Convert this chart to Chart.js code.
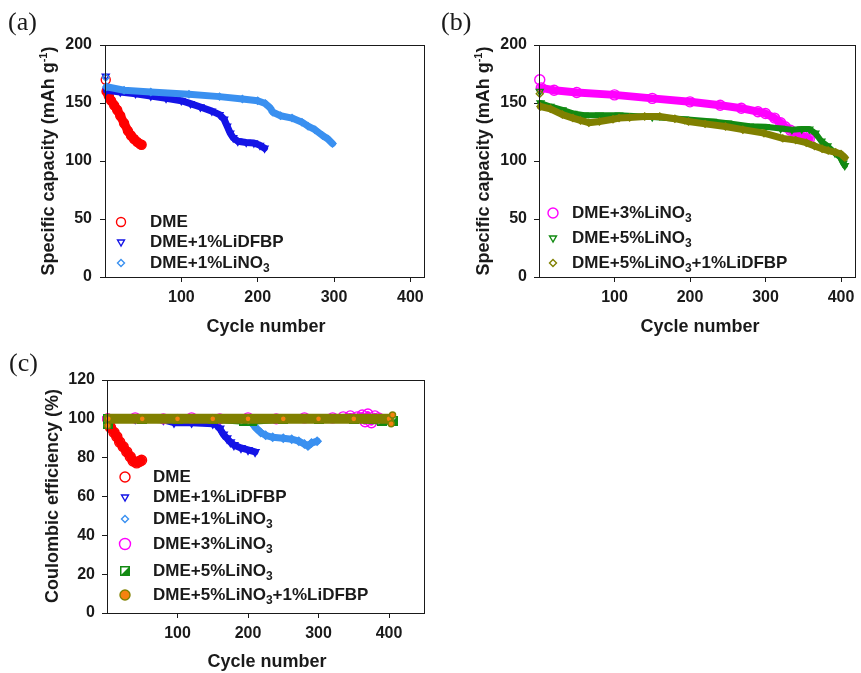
<!DOCTYPE html>
<html>
<head>
<meta charset="utf-8">
<script src="https://cdn.jsdelivr.net/npm/chart.js@4.4.1/dist/chart.umd.min.js"></script>
<style>
  html, body { margin: 0; padding: 0; background: #fff; }
  #page { position: relative; width: 861px; height: 673px; overflow: hidden;
          font-family: 'Liberation Sans', Arial, sans-serif; color: #1a1a1a; }
  canvas { position: absolute; }
  .tag { position: absolute; font: 26px/26px 'Liberation Serif', 'Times New Roman', serif; }
  .ttl { position: absolute; font-weight: bold; font-size: 18px; line-height: 18px; white-space: nowrap;
         transform: translate(-50%, -50%); }
  .ttl.v { transform: translate(-50%, -50%) rotate(-90deg); }
  .ttl sup { font-size: 11px; vertical-align: 7px; line-height: 0; }
</style>
</head>
<body>
<div id="page">
  <canvas id="ca" width="430" height="340" style="left:0;top:0;width:430px;height:340px"></canvas>
  <canvas id="cb" width="431" height="340" style="left:430px;top:0;width:431px;height:340px"></canvas>
  <canvas id="cc" width="430" height="333" style="left:0;top:340px;width:430px;height:333px"></canvas>

  <div class="tag" style="left:8px;top:9px">(a)</div>
  <div class="tag" style="left:441px;top:9px">(b)</div>
  <div class="tag" style="left:9px;top:350px">(c)</div>

  <div class="ttl v" style="left:48px;top:161px">Specific capacity (mAh g<sup>-1</sup>)</div>
  <div class="ttl" style="left:266px;top:326px">Cycle number</div>
  <div class="ttl v" style="left:483px;top:161px">Specific capacity (mAh g<sup>-1</sup>)</div>
  <div class="ttl" style="left:700px;top:326px">Cycle number</div>
  <div class="ttl v" style="left:52px;top:496px">Coulombic efficiency (%)</div>
  <div class="ttl" style="left:267px;top:661px">Cycle number</div>
</div>

<script>
// tick labels
const cycleTicks = [100, 200, 300, 400];
const capTicks = [0, 50, 100, 150, 200];
const ceTicks = [0, 20, 40, 60, 80, 100, 120];

// (a) specific capacity
const aDmeCycle = [1, 2, 5, 8, 12, 16, 20, 25, 30, 34, 38, 42, 46, 48];
const aDmeCap   = [170, 160, 156, 152, 148, 144, 139, 132.5, 126, 122, 119, 116.5, 114.5, 114];

const aDfbpCycle = [1, 2, 20, 40, 60, 80, 100, 112, 125, 140, 150, 156, 160, 164, 168, 174, 185, 195, 203, 209];
const aDfbpCap   = [173, 161, 159.5, 158, 156, 154, 152, 149.5, 146.5, 143, 140, 136, 130, 124, 120, 117, 116, 115.5, 113.5, 111];

const aLno1Cycle = [1, 2, 25, 60, 110, 150, 180, 200, 210, 216, 220, 230, 245, 258, 266, 275, 285, 292, 298];
const aLno1Cap   = [172, 164, 161, 159.5, 157.5, 155.5, 153.5, 152, 149.5, 146, 142, 139, 137, 133.5, 130, 127, 122, 119, 115];

// (b) specific capacity
const bLno3Cycle = [1, 3, 20, 50, 100, 150, 200, 240, 268, 290, 300, 312, 320, 326, 333, 340, 350, 358];
const bLno3Cap   = [170, 163, 161, 159, 157, 154, 151, 148, 145.5, 142.5, 141, 137, 133, 129.5, 126.5, 124, 121.5, 119];

const bLno5Cycle = [1, 2, 15, 31, 45, 60, 80, 106, 150, 193, 230, 250, 279, 300, 320, 335, 348, 358, 366, 374, 382, 392, 399, 403, 405];
const bLno5Cap   = [160, 150, 147, 144, 141, 139.5, 139.5, 139.5, 138, 136, 134, 132.5, 130, 129.5, 128, 127, 127.5, 127.5, 124, 117, 113, 107, 103, 98, 96];

const bMixCycle = [1, 2, 15, 31, 45, 55, 66, 80, 98, 106, 120, 140, 160, 180, 198, 220, 247, 270, 298, 323, 340, 354, 365, 375, 383, 393, 400, 405];
const bMixCap   = [158, 147, 145, 140, 137, 135, 133, 134, 136, 137, 137.5, 138.3, 138.3, 136.5, 134, 132, 129.7, 127, 124, 119.5, 118, 115.8, 113, 110.5, 109, 107.5, 106, 103];

// (c) coulombic efficiency
const cDmeCycle = [1, 3, 5, 10, 14, 18, 23, 28, 33, 37, 42, 46, 49];
const cDmeCe    = [100, 97, 95.5, 93, 90.8, 88, 85.6, 83, 80.5, 78.3, 77.3, 78, 78.7];

const cDfbpCycle = [1, 40, 80, 95, 120, 150, 155, 160, 165, 170, 175, 180, 190, 200, 210];
const cDfbpCe    = [100, 100, 99.5, 98, 98, 97.5, 97, 95, 92, 90, 88, 86.5, 85, 84, 83];

const cLno1Cycle = [1, 50, 100, 150, 200, 205, 212, 218, 225, 235, 250, 262, 272, 280, 285, 290, 298];
const cLno1Ce    = [100, 100, 100, 100, 99.5, 98, 95, 93, 91.5, 90.5, 90, 89.5, 88.5, 87, 86, 87.5, 88.5];

const cLno3Cycle = [1, 40, 80, 120, 160, 200, 240, 280, 320, 335, 345, 355, 362, 366, 370, 375, 380, 385];
const cLno3Ce    = [100, 100.5, 100, 100.5, 100, 100.5, 100, 100.5, 100.5, 101, 101.5, 101, 102, 98.5, 102.5, 98, 101.5, 100.5];

const cLno5Cycle = [1, 2, 50, 100, 150, 195, 205, 250, 300, 350, 390, 405];
const cLno5Ce    = [97.5, 100, 100, 100, 100, 99, 99, 100, 100, 100, 99, 99];

const cMixCycle = [1, 2, 50, 100, 150, 200, 250, 300, 350, 400, 403, 405];
const cMixCe    = [96.5, 100, 100, 100, 100, 100, 100, 100, 100, 100, 97.5, 102];

const ink = '#1a1a1a';
const RED = '#ff0000', BLUE = '#1414e6', SKY = '#3a90f0', MAG = '#ff00ff',
      GREEN = '#128a12', OLIVE = '#808000', ORANGE = '#f5820f';
const FONT = "'Liberation Sans', Arial, sans-serif";

// half filled square used for DME+5%LiNO3 in (c)
const halfSq = document.createElement('canvas');
halfSq.width = halfSq.height = 10;
(() => {
  const g = halfSq.getContext('2d');
  g.fillStyle = '#fff';
  g.fillRect(0, 0, 10, 10);
  g.fillStyle = GREEN;
  g.beginPath(); g.moveTo(10, 0); g.lineTo(10, 10); g.lineTo(0, 10); g.closePath(); g.fill();
  g.strokeStyle = GREEN; g.lineWidth = 1.5;
  g.strokeRect(0.75, 0.75, 8.5, 8.5);
})();

const pts = (xs, ys) => xs.map((x, i) => ({ x, y: ys[i] }));

function series(xs, ys, st) {
  const loose = st.loose || [];
  return {
    data: pts(xs, ys),
    showLine: true,
    borderColor: st.color,
    backgroundColor: 'rgba(0,0,0,0)',
    borderWidth: st.line,
    borderCapStyle: 'round',
    borderJoinStyle: 'round',
    pointStyle: st.shape,
    pointRotation: st.rot || 0,
    pointRadius: st.r,
    pointBorderWidth: 1.4,
    pointBorderColor: st.pcolor || st.color,
    pointBackgroundColor: st.fill || 'rgba(0,0,0,0)',
    tension: 0,
    clip: false,
    order: st.order,
    segment: {
      borderColor: c => (loose.includes(c.p0DataIndex) || loose.includes(c.p1DataIndex)) ? 'rgba(0,0,0,0)' : undefined
    }
  };
}

function drawLabel(ctx, text, x, y) {
  const parts = text.split(/(?<=NO)(3)/);
  let cx = x;
  ctx.fillStyle = ink;
  ctx.textAlign = 'left';
  ctx.textBaseline = 'middle';
  parts.forEach((p, k) => {
    if (k % 2) {
      ctx.font = 'bold 12px ' + FONT;
      ctx.fillText(p, cx, y + 6);
    } else {
      ctx.font = 'bold 17px ' + FONT;
      ctx.fillText(p, cx, y);
    }
    cx += ctx.measureText(p).width;
  });
}

function makeLegend(items, rows, markX, textX) {
  return {
    id: 'inlineLegend',
    afterDatasetsDraw(chart) {
      const ctx = chart.ctx;
      items.forEach((it, i) => {
        const y = rows[i];
        ctx.save();
        ctx.lineWidth = 1.4;
        ctx.strokeStyle = it.pcolor || it.color;
        ctx.fillStyle = it.fill || 'rgba(0,0,0,0)';
        Chart.helpers.drawPoint(ctx, { pointStyle: it.shape, radius: it.lr, rotation: it.rot || 0, borderWidth: 1.4 }, markX, y);
        ctx.restore();
        drawLabel(ctx, it.label, textX, y);
      });
    }
  };
}

const frame = {
  id: 'frame',
  afterDraw(chart) {
    const { left, top, right, bottom } = chart.chartArea;
    const ctx = chart.ctx;
    ctx.save();
    ctx.strokeStyle = ink;
    ctx.lineWidth = 1;
    ctx.strokeRect(Math.round(left) + 0.5, Math.round(top) + 0.5, Math.round(right - left), Math.round(bottom - top));
    ctx.restore();
  }
};

function axes(xMax, yTicks, yWidth, xHeight, yPad, xPad) {
  const tickFont = { family: FONT, size: 16, weight: 'bold' };
  const grid = { drawOnChartArea: false, drawTicks: true, tickLength: 5, color: ink, lineWidth: 1 };
  return {
    x: {
      type: 'linear', min: 0, max: xMax, grid, border: { display: false },
      ticks: { font: tickFont, color: ink, padding: xPad, maxRotation: 0, autoSkip: false },
      afterBuildTicks: s => { s.ticks = cycleTicks.map(v => ({ value: v })); },
      afterFit: s => { s.height = xHeight; s.paddingLeft = 0; s.paddingRight = 0; }
    },
    y: {
      type: 'linear', min: yTicks[0], max: yTicks[yTicks.length - 1], grid, border: { display: false },
      ticks: { font: tickFont, color: ink, padding: yPad, autoSkip: false },
      afterBuildTicks: s => { s.ticks = yTicks.map(v => ({ value: v })); },
      afterFit: s => { s.width = yWidth; s.paddingTop = 0; s.paddingBottom = 0; }
    }
  };
}

function build(id, styles, data, xMax, yTicks, box, legend) {
  const datasets = styles.map((st, i) => series(data[i][0], data[i][1], Object.assign({ order: styles.length - i }, st)));
  new Chart(document.getElementById(id), {
    type: 'scatter',
    data: { datasets },
    options: {
      responsive: false,
      animation: false,
      events: [],
      layout: { padding: { top: box.top, right: box.right, left: 0, bottom: 0 } },
      plugins: { legend: { display: false }, tooltip: { enabled: false } },
      scales: axes(xMax, yTicks, box.yWidth, box.xHeight, box.yPad, box.xPad)
    },
    plugins: [frame, makeLegend(styles, legend.rows, legend.markX, legend.textX)]
  });
}

// (a)
build('ca', [
  { label: 'DME', color: RED, shape: 'circle', r: 4.5, lr: 4.5, line: 9, loose: [0] },
  { label: 'DME+1%LiDFBP', color: BLUE, shape: 'triangle', rot: 180, r: 4, lr: 4, line: 7, loose: [0] },
  { label: 'DME+1%LiNO3', color: SKY, shape: 'rectRot', r: 3.5, lr: 3.5, line: 7, loose: [0] }
], [[aDmeCycle, aDmeCap], [aDfbpCycle, aDfbpCap], [aLno1Cycle, aLno1Cap]],
418, capTicks, { top: 45, right: 4, yWidth: 105, xHeight: 63, yPad: 8, xPad: 6 },
{ rows: [222, 242, 263], markX: 121, textX: 150 });

// (b)
build('cb', [
  { label: 'DME+3%LiNO3', color: MAG, shape: 'circle', r: 5, lr: 5, line: 8, loose: [0] },
  { label: 'DME+5%LiNO3', color: GREEN, shape: 'triangle', rot: 180, r: 4, lr: 4, line: 6, loose: [0] },
  { label: 'DME+5%LiNO3+1%LiDFBP', color: OLIVE, shape: 'rectRot', r: 3.5, lr: 3.5, line: 7, loose: [0] }
], [[bLno3Cycle, bLno3Cap], [bLno5Cycle, bLno5Cap], [bMixCycle, bMixCap]],
418, capTicks, { top: 45, right: 1, yWidth: 109, xHeight: 63, yPad: 7, xPad: 6 },
{ rows: [213, 238, 263], markX: 123, textX: 142 });

// (c)
build('cc', [
  { label: 'DME', color: RED, shape: 'circle', r: 5, lr: 5, line: 9 },
  { label: 'DME+1%LiDFBP', color: BLUE, shape: 'triangle', rot: 180, r: 4.5, lr: 4, line: 7 },
  { label: 'DME+1%LiNO3', color: SKY, shape: 'rectRot', r: 4, lr: 3.5, line: 7 },
  { label: 'DME+3%LiNO3', color: MAG, shape: 'circle', r: 5, lr: 5.5, line: 6 },
  { label: 'DME+5%LiNO3', color: GREEN, shape: halfSq, r: 5, lr: 5, line: 8, loose: [0] },
  { label: 'DME+5%LiNO3+1%LiDFBP', color: OLIVE, pcolor: OLIVE, fill: ORANGE, shape: 'circle', r: 3, lr: 5, line: 10, loose: [0, 10, 11] }
], [[cDmeCycle, cDmeCe], [cDfbpCycle, cDfbpCe], [cLno1Cycle, cLno1Ce], [cLno3Cycle, cLno3Ce], [cLno5Cycle, cLno5Ce], [cMixCycle, cMixCe]],
449, ceTicks, { top: 40, right: 2, yWidth: 107, xHeight: 60, yPad: 7, xPad: 6 },
{ rows: [137, 157, 179, 204, 231, 255], markX: 125, textX: 153 });
</script>
</body>
</html>
